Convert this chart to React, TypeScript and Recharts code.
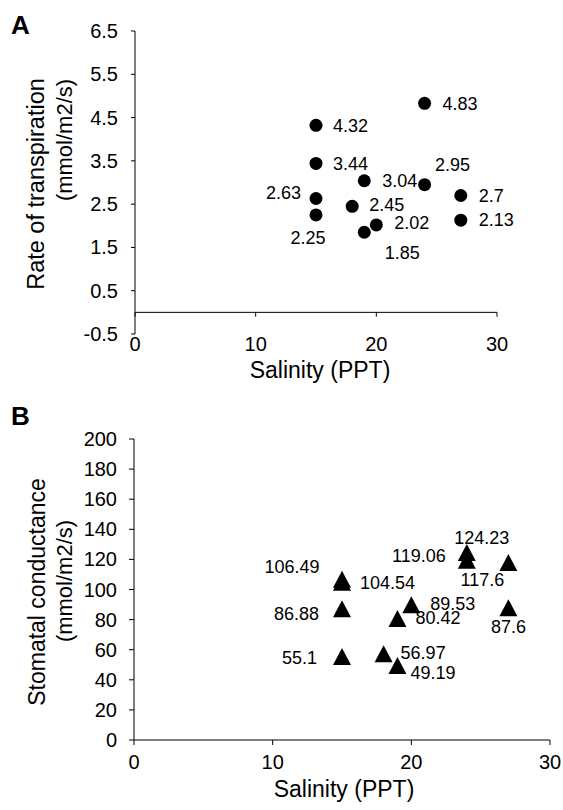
import { ScatterChart, Scatter, XAxis, YAxis, ReferenceLine } from 'recharts';

// panel A: transpiration vs salinity
const salinityA = [15, 15, 15, 15, 18, 19, 19, 20, 24, 24, 27, 27];
const transpiration = [4.32, 3.44, 2.63, 2.25, 2.45, 3.04, 1.85, 2.02, 4.83, 2.95, 2.7, 2.13];

// panel B: stomatal conductance vs salinity
const salinityB = [15, 15, 15, 15, 18, 19, 19, 20, 24, 24, 27, 27];
const conductance = [106.49, 104.54, 86.88, 55.1, 56.97, 80.42, 49.19, 89.53, 124.23, 119.06, 117.6, 87.6];

const xTicks = [0, 10, 20, 30];
const yTicksA = [-0.5, 0.5, 1.5, 2.5, 3.5, 4.5, 5.5, 6.5];
const yTicksB = [0, 20, 40, 60, 80, 100, 120, 140, 160, 180, 200];

// where each value label sits relative to its marker: [dx, dy, anchor]
const labelPosA: [number, number, string][] = [
  [17, 0, 'start'], [17, 0, 'start'], [-15, -6, 'end'], [-8, 23, 'middle'],
  [17, -2, 'start'], [18, 0, 'start'], [38, 20, 'middle'], [18, -2, 'start'],
  [18, 0, 'start'], [28, -20, 'middle'], [18, 0, 'start'], [18, 0, 'start'],
];
const labelPosB: [number, number, string][] = [
  [-50, -13, 'middle'], [18, 0, 'start'], [-23, 4, 'end'], [-25, 1, 'end'],
  [17, -2, 'start'], [18, -1, 'start'], [13, 7, 'start'], [19, -2, 'start'],
  [15, -15, 'middle'], [-21, -5, 'end'], [-26, 17, 'middle'], [0, 19, 'middle'],
];

const FONT = '"Liberation Sans", Arial, sans-serif';

const dataA = salinityA.map((x, i) => ({ x, y: transpiration[i], i }));
const dataB = salinityB.map((x, i) => ({ x, y: conductance[i], i }));

const circleShape = (props: any) => {
  const { cx, cy, payload } = props;
  const [dx, dy, anchor] = labelPosA[payload.i];
  return (
    <g>
      <circle cx={cx} cy={cy} r={6.5} fill="#000" />
      <text x={cx + dx} y={cy + dy} dy="0.35em" textAnchor={anchor} fontSize={18} fontFamily={FONT} fill="#000">
        {String(payload.y)}
      </text>
    </g>
  );
};

const triangleShape = (props: any) => {
  const { cx, cy, payload } = props;
  const [dx, dy, anchor] = labelPosB[payload.i];
  return (
    <g>
      <polygon points={`${cx},${cy - 9} ${cx - 9},${cy + 8} ${cx + 9},${cy + 8}`} fill="#000" />
      <text x={cx + dx} y={cy + dy} dy="0.35em" textAnchor={anchor} fontSize={18} fontFamily={FONT} fill="#000">
        {String(payload.y)}
      </text>
    </g>
  );
};

const xTick = (shift: number) => (props: any) => (
  <text x={props.x} y={props.y + shift} dy="0.35em" textAnchor="middle" fontSize={20} fontFamily={FONT} fill="#000">
    {props.payload.value}
  </text>
);

const yTick = (props: any) => (
  <text x={props.x} y={props.y} dy="0.35em" textAnchor="end" fontSize={20} fontFamily={FONT} fill="#000">
    {props.payload.value}
  </text>
);

export default function App() {
  return (
    <div style={{ position: 'absolute', left: 0, top: 0, width: 563, height: 810, background: '#fff' }}>
      <div style={{ position: 'absolute', left: 0, top: 0 }}>
        <ScatterChart width={563} height={400} margin={{ top: 31, right: 66, bottom: 36, left: 75 }}>
          <XAxis
            type="number"
            dataKey="x"
            domain={[0, 30]}
            ticks={xTicks}
            axisLine={false}
            tickLine={false}
            tickSize={0}
            height={30}
            tick={xTick(8)}
          />
          <YAxis
            type="number"
            dataKey="y"
            domain={[-0.5, 6.5]}
            ticks={yTicksA}
            width={60}
            axisLine={{ stroke: '#000' }}
            tickLine={{ stroke: '#000' }}
            tickSize={4}
            tickMargin={13}
            tick={yTick}
          />
          <ReferenceLine y={0} stroke="#000" />
          {xTicks.map((t) => (
            <ReferenceLine key={t} segment={[{ x: t, y: 0 }, { x: t, y: -0.1 }]} stroke="#000" />
          ))}
          <Scatter data={dataA} shape={circleShape} isAnimationActive={false} />
        </ScatterChart>
      </div>
      <div style={{ position: 'absolute', left: 0, top: 400 }}>
        <ScatterChart width={563} height={410} margin={{ top: 39, right: 13, bottom: 40, left: 74 }}>
          <XAxis
            type="number"
            dataKey="x"
            domain={[0, 30]}
            ticks={xTicks}
            axisLine={{ stroke: '#000' }}
            tickLine={{ stroke: '#000' }}
            tickSize={5}
            tickMargin={0}
            height={30}
            tick={xTick(17)}
          />
          <YAxis
            type="number"
            dataKey="y"
            domain={[0, 200]}
            ticks={yTicksB}
            width={60}
            axisLine={{ stroke: '#000' }}
            tickLine={{ stroke: '#000' }}
            tickSize={5}
            tickMargin={12}
            tick={yTick}
          />
          <Scatter data={dataB} shape={triangleShape} isAnimationActive={false} />
        </ScatterChart>
      </div>
      <svg width={563} height={810} style={{ position: 'absolute', left: 0, top: 0, pointerEvents: 'none' }} fontFamily={FONT}>
        <text x={11} y={25} dy="0.35em" fontSize={26} fontWeight="bold">A</text>
        <text x={11} y={416} dy="0.35em" fontSize={26} fontWeight="bold">B</text>
        <text x={320} y={370} dy="0.35em" textAnchor="middle" fontSize={23}>Salinity (PPT)</text>
        <text x={344} y={789} dy="0.35em" textAnchor="middle" fontSize={23}>Salinity (PPT)</text>
        <text transform="translate(36,184) rotate(-90)" dy="0.35em" textAnchor="middle" fontSize={23.5}>Rate of transpiration</text>
        <text transform="translate(64,140) rotate(-90)" dy="0.35em" textAnchor="middle" fontSize={22}>(mmol/m2/s)</text>
        <text transform="translate(37,592) rotate(-90)" dy="0.35em" textAnchor="middle" fontSize={23}>Stomatal conductance</text>
        <text transform="translate(64,581) rotate(-90)" dy="0.35em" textAnchor="middle" fontSize={22}>(mmol/m2/s)</text>
      </svg>
    </div>
  );
}
